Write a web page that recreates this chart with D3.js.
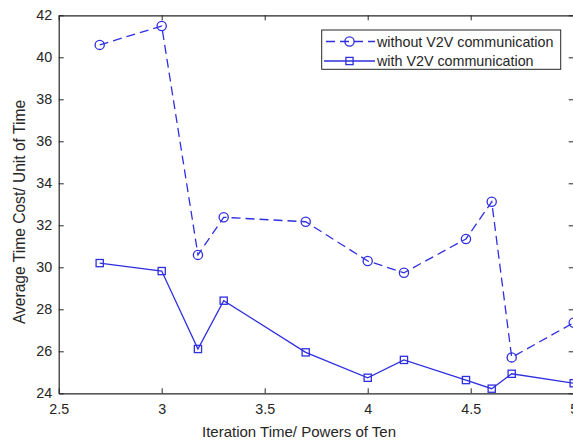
<!DOCTYPE html>
<html><head><meta charset="utf-8">
<script src="https://cdn.jsdelivr.net/npm/d3@7"></script>
<style>body{margin:0;background:#fff}svg{display:block}text{font-family:"Liberation Sans",Arial,sans-serif;fill:#262626}</style>
</head><body><svg id="c" width="573" height="441"></svg>
<script>
const xValues = [2.699, 3.0, 3.176, 3.301, 3.699, 4.0, 4.176, 4.477, 4.602, 4.699, 5.0];
const withoutV2V = [40.59, 41.49, 30.59, 32.38, 32.17, 30.3, 29.74, 31.35, 33.12, 25.71, 27.36];
const withV2V = [30.2, 29.82, 26.11, 28.41, 25.95, 24.74, 25.59, 24.63, 24.22, 24.93, 24.48];
const xTicks = [2.5, 3, 3.5, 4, 4.5, 5];
const yTicks = [24, 26, 28, 30, 32, 34, 36, 38, 40, 42];
const seriesNames = ["without V2V communication", "with V2V communication"];

const svg = d3.select("#c");
const L = 58.7, R = 573.7, T = 15.3, B = 393.3;
const x = d3.scaleLinear().domain([2.5, 5]).range([L, R]);
const y = d3.scaleLinear().domain([24, 42]).range([B, T]);
const col = "#2f2fe0", axCol = "#262626";

const fmt = d => String(d);
const gB = svg.append("g").attr("transform", `translate(0,${B})`)
  .call(d3.axisBottom(x).tickValues(xTicks).tickFormat(fmt).tickSizeInner(-5).tickSizeOuter(0).tickPadding(11));
const gT = svg.append("g").attr("transform", `translate(0,${T})`)
  .call(d3.axisTop(x).tickValues(xTicks).tickFormat("").tickSizeInner(-5).tickSizeOuter(0));
const gL = svg.append("g").attr("transform", `translate(${L},0)`)
  .call(d3.axisLeft(y).tickValues(yTicks).tickFormat(fmt).tickSizeInner(-5).tickSizeOuter(0).tickPadding(6.5));
const gR = svg.append("g").attr("transform", `translate(${R},0)`)
  .call(d3.axisRight(y).tickValues(yTicks).tickFormat("").tickSizeInner(-5).tickSizeOuter(0));
[gB, gT, gL, gR].forEach(g => {
  g.selectAll("path.domain").attr("stroke", axCol).attr("stroke-width", 1.2);
  g.selectAll(".tick line").attr("stroke", axCol).attr("stroke-width", 1);
  g.selectAll(".tick text").attr("font-size", 14.3).attr("fill", "#262626")
    .style("font-family", '"Liberation Sans",Arial,sans-serif');
});

const line = d3.line().x((d, i) => x(xValues[i])).y(d => y(d));
svg.append("path").datum(withoutV2V).attr("d", line).attr("fill", "none")
  .attr("stroke", col).attr("stroke-width", 1.3).attr("stroke-dasharray", "9,5");
svg.append("path").datum(withV2V).attr("d", line).attr("fill", "none")
  .attr("stroke", col).attr("stroke-width", 1.3);

svg.append("g").selectAll("circle").data(withoutV2V).join("circle")
  .attr("cx", (d, i) => x(xValues[i])).attr("cy", d => y(d)).attr("r", 4.6)
  .attr("fill", "none").attr("stroke", col).attr("stroke-width", 1.3);
svg.append("g").selectAll("rect").data(withV2V).join("rect")
  .attr("x", (d, i) => x(xValues[i]) - 3.6).attr("y", d => y(d) - 3.6)
  .attr("width", 7.2).attr("height", 7.2)
  .attr("fill", "none").attr("stroke", col).attr("stroke-width", 1.3);

svg.append("text").attr("x", 299).attr("y", 437).attr("text-anchor", "middle")
  .attr("font-size", 15).text("Iteration Time/ Powers of Ten");
svg.append("text").attr("transform", `translate(25,212) rotate(-90)`)
  .attr("text-anchor", "middle").attr("font-size", 15.6).text("Average Time Cost/ Unit of Time");

const lg = svg.append("g");
lg.append("rect").attr("x", 321.7).attr("y", 30).attr("width", 239).attr("height", 39.3)
  .attr("fill", "#fff").attr("stroke", axCol).attr("stroke-width", 1);
const rows = [41.5, 61];
lg.append("line").attr("x1", 324).attr("x2", 375).attr("y1", rows[0]).attr("y2", rows[0])
  .attr("stroke", col).attr("stroke-width", 1.3).attr("stroke-dasharray", "9,5").attr("stroke-dashoffset", -2);
lg.append("circle").attr("cx", 349.5).attr("cy", rows[0]).attr("r", 4.6)
  .attr("fill", "none").attr("stroke", col).attr("stroke-width", 1.3);
lg.append("line").attr("x1", 324).attr("x2", 375).attr("y1", rows[1]).attr("y2", rows[1])
  .attr("stroke", col).attr("stroke-width", 1.3);
lg.append("rect").attr("x", 349.5 - 3.6).attr("y", rows[1] - 3.6).attr("width", 7.2).attr("height", 7.2)
  .attr("fill", "none").attr("stroke", col).attr("stroke-width", 1.3);
seriesNames.forEach((s, i) => {
  lg.append("text").attr("x", 377).attr("y", rows[i] + 5).attr("font-size", 14.3).text(s);
});
</script></body></html>
